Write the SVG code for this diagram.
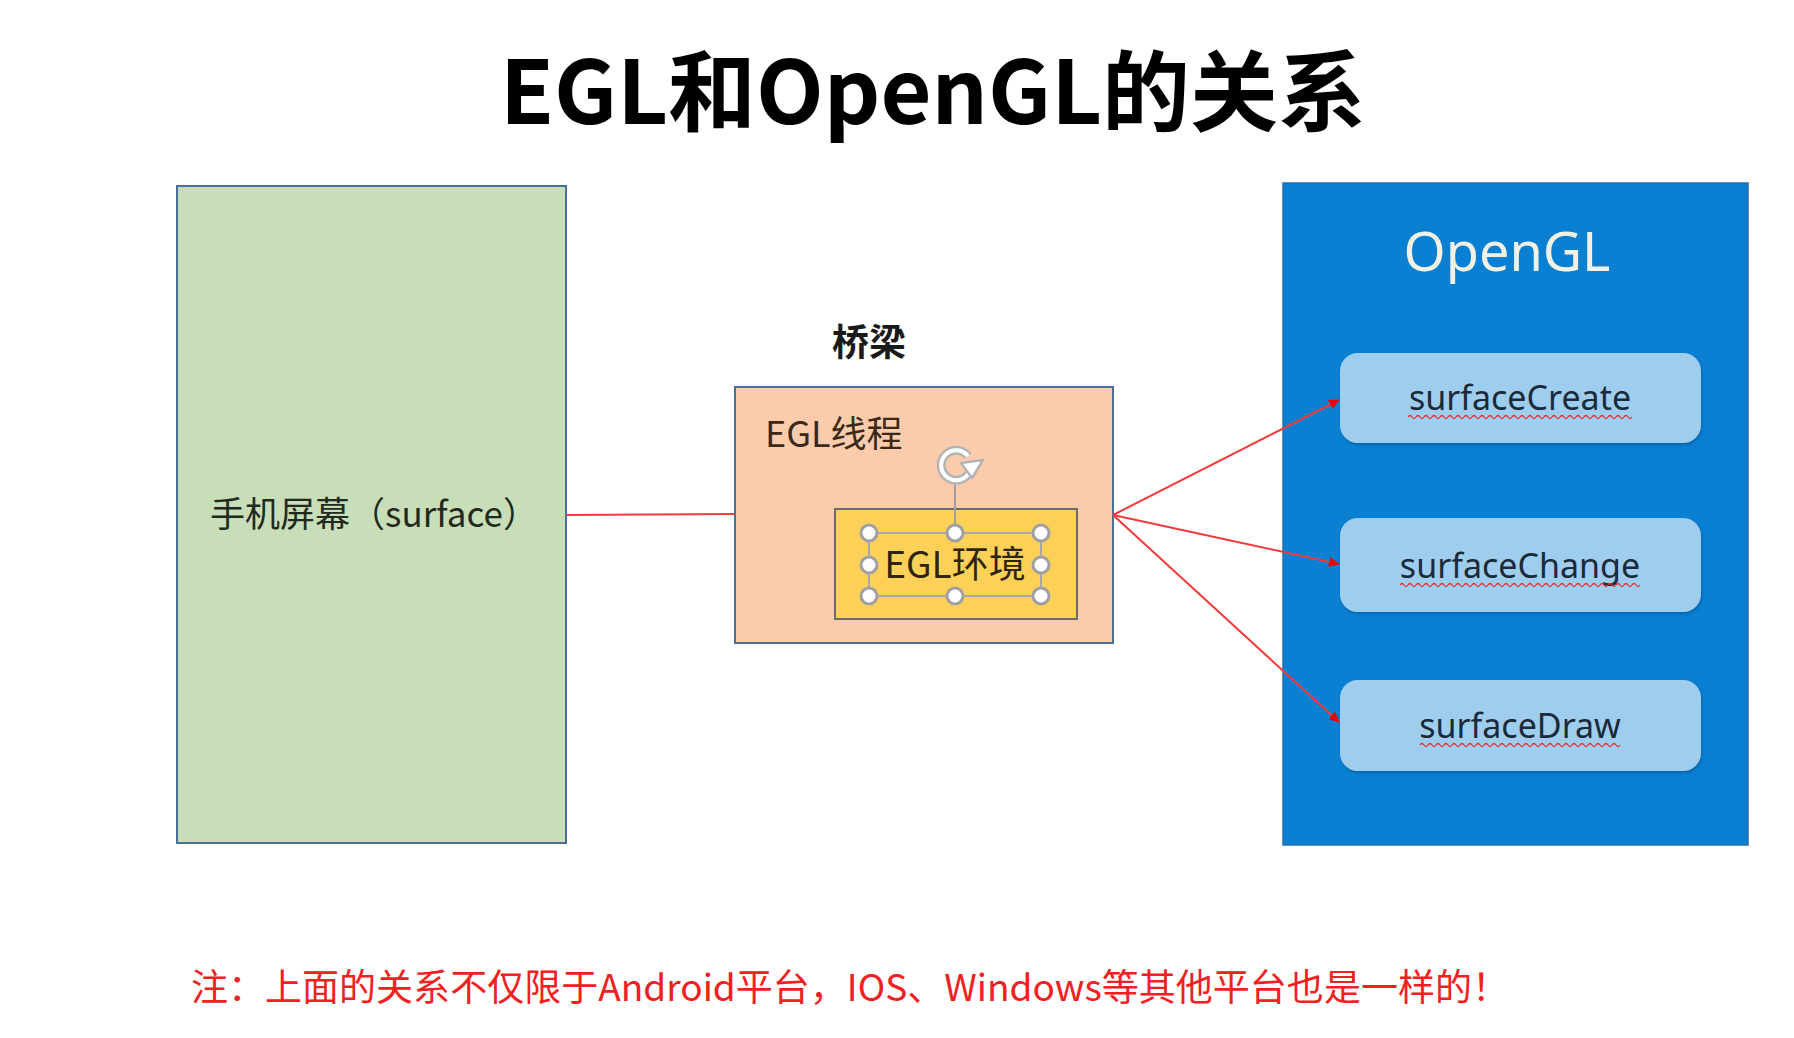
<svg xmlns="http://www.w3.org/2000/svg" width="1794" height="1038" viewBox="0 0 1794 1038">
<defs>
<style>
.cjk{font-family:"Noto Sans CJK SC","Noto Sans",sans-serif}
.lbl{font-family:"Noto Sans","Noto Sans CJK SC",sans-serif}
.box{stroke:#4a6f99;stroke-width:2}
.fn{fill:#9fcdee}
.ftxt{font-size:34px;fill:#1a2a3a;text-anchor:middle}
.conn{stroke:#f23a3a;stroke-width:2;fill:none}
.h{fill:#ffffff;stroke:#a0a0a0;stroke-width:3}
.wave{stroke:#e03030;stroke-width:1.3;fill:none}
</style>
<marker id="ah" markerWidth="12" markerHeight="12" refX="10" refY="6" orient="auto" markerUnits="userSpaceOnUse">
<path d="M0,1 L11,6 L0,11 Z" fill="#ee0000"/>
</marker>
<filter id="sh" x="-5%" y="-10%" width="110%" height="130%">
<feDropShadow dx="1" dy="2" stdDeviation="1.5" flood-color="#004a80" flood-opacity="0.5"/>
</filter>
</defs>
<rect width="1794" height="1038" fill="#ffffff"/>
<text x="933" y="124" class="cjk" font-size="88" font-weight="bold" text-anchor="middle" fill="#000000">EGL和OpenGL的关系</text>

<g id="screen">
<rect x="177" y="186" width="389" height="657" fill="#c8deb8" class="box"/>
<text x="374" y="527" class="cjk" font-size="35" text-anchor="middle" fill="#222a1e">手机屏幕（surface）</text>
</g>

<g id="bridge-label">
<text x="869" y="356" class="cjk" font-size="37" font-weight="bold" text-anchor="middle" fill="#1a1a1a">桥梁</text>
</g>

<g id="egl-thread">
<rect x="735" y="387" width="378" height="256" fill="#fbcbac" class="box"/>
<text x="765" y="447" class="cjk" font-size="36" fill="#3a2818">EGL线程</text>
</g>

<g id="egl-env">
<rect x="835" y="509" width="242" height="110" fill="#fdd057" stroke="#6b6b6b" stroke-width="2"/>
<text x="955" y="578" class="cjk" font-size="37" text-anchor="middle" fill="#2e2410">EGL环境</text>
<g id="selection">
<rect x="869" y="533" width="172" height="63" fill="none" stroke="#a8a8a8" stroke-width="2"/>
<line x1="955" y1="481" x2="955" y2="533" stroke="#a0a0a0" stroke-width="2"/>
<path d="M968,456 A15,15 0 1 0 969,473" fill="none" stroke="#b4b4b4" stroke-width="9"/>
<path d="M968,456 A15,15 0 1 0 969,473" fill="none" stroke="#ffffff" stroke-width="4"/>
<path d="M961,463 L983,460 L972,478 Z" fill="#ffffff" stroke="#b4b4b4" stroke-width="2.5" stroke-linejoin="round"/>
<circle cx="869" cy="533" r="8" class="h"/>
<circle cx="955" cy="533" r="8" class="h"/>
<circle cx="1041" cy="533" r="8" class="h"/>
<circle cx="869" cy="565" r="8" class="h"/>
<circle cx="1041" cy="565" r="8" class="h"/>
<circle cx="869" cy="596" r="8" class="h"/>
<circle cx="955" cy="596" r="8" class="h"/>
<circle cx="1041" cy="596" r="8" class="h"/>
</g>
</g>

<g id="opengl">
<rect x="1283" y="183" width="465" height="662" fill="#0a80d2" stroke="#2a6ca8" stroke-width="1.5"/>
<text x="1507" y="271" class="lbl" font-size="54" text-anchor="middle" fill="#f3f1e6">OpenGL</text>
</g>

<g id="surfaceCreate">
<rect x="1340" y="353" width="361" height="90" rx="18" class="fn" filter="url(#sh)"/>
<text x="1520" y="410" class="lbl ftxt">surfaceCreate</text>
<path class="wave" d="M1408,417 q2,-3 4,0 t4,0 t4,0 t4,0 t4,0 t4,0 t4,0 t4,0 t4,0 t4,0 t4,0 t4,0 t4,0 t4,0 t4,0 t4,0 t4,0 t4,0 t4,0 t4,0 t4,0 t4,0 t4,0 t4,0 t4,0 t4,0 t4,0 t4,0 t4,0 t4,0 t4,0 t4,0 t4,0 t4,0 t4,0 t4,0 t4,0 t4,0 t4,0 t4,0 t4,0 t4,0 t4,0 t4,0 t4,0 t4,0 t4,0 t4,0 t4,0 t4,0 t4,0 t4,0 t4,0 t4,0 t4,0 t4,0"/>
</g>

<g id="surfaceChange">
<rect x="1340" y="518" width="361" height="94" rx="18" class="fn" filter="url(#sh)"/>
<text x="1520" y="578" class="lbl ftxt">surfaceChange</text>
<path class="wave" d="M1400,585 q2,-3 4,0 t4,0 t4,0 t4,0 t4,0 t4,0 t4,0 t4,0 t4,0 t4,0 t4,0 t4,0 t4,0 t4,0 t4,0 t4,0 t4,0 t4,0 t4,0 t4,0 t4,0 t4,0 t4,0 t4,0 t4,0 t4,0 t4,0 t4,0 t4,0 t4,0 t4,0 t4,0 t4,0 t4,0 t4,0 t4,0 t4,0 t4,0 t4,0 t4,0 t4,0 t4,0 t4,0 t4,0 t4,0 t4,0 t4,0 t4,0 t4,0 t4,0 t4,0 t4,0 t4,0 t4,0 t4,0 t4,0 t4,0 t4,0 t4,0 t4,0"/>
</g>

<g id="surfaceDraw">
<rect x="1340" y="680" width="361" height="91" rx="18" class="fn" filter="url(#sh)"/>
<text x="1520" y="738" class="lbl ftxt">surfaceDraw</text>
<path class="wave" d="M1420,745 q2,-3 4,0 t4,0 t4,0 t4,0 t4,0 t4,0 t4,0 t4,0 t4,0 t4,0 t4,0 t4,0 t4,0 t4,0 t4,0 t4,0 t4,0 t4,0 t4,0 t4,0 t4,0 t4,0 t4,0 t4,0 t4,0 t4,0 t4,0 t4,0 t4,0 t4,0 t4,0 t4,0 t4,0 t4,0 t4,0 t4,0 t4,0 t4,0 t4,0 t4,0 t4,0 t4,0 t4,0 t4,0 t4,0 t4,0 t4,0 t4,0 t4,0 t4,0"/>
</g>

<g id="connectors">
<line x1="566" y1="515" x2="735" y2="514" class="conn"/>
<line x1="1113" y1="515" x2="1339" y2="400" class="conn" marker-end="url(#ah)"/>
<line x1="1113" y1="515" x2="1339" y2="564" class="conn" marker-end="url(#ah)"/>
<line x1="1113" y1="515" x2="1339" y2="722" class="conn" marker-end="url(#ah)"/>
</g>

<text x="191" y="1001" class="cjk" font-size="37" fill="#f22020" textLength="1318" lengthAdjust="spacingAndGlyphs">注：上面的关系不仅限于Android平台，IOS、Windows等其他平台也是一样的！</text>
</svg>
